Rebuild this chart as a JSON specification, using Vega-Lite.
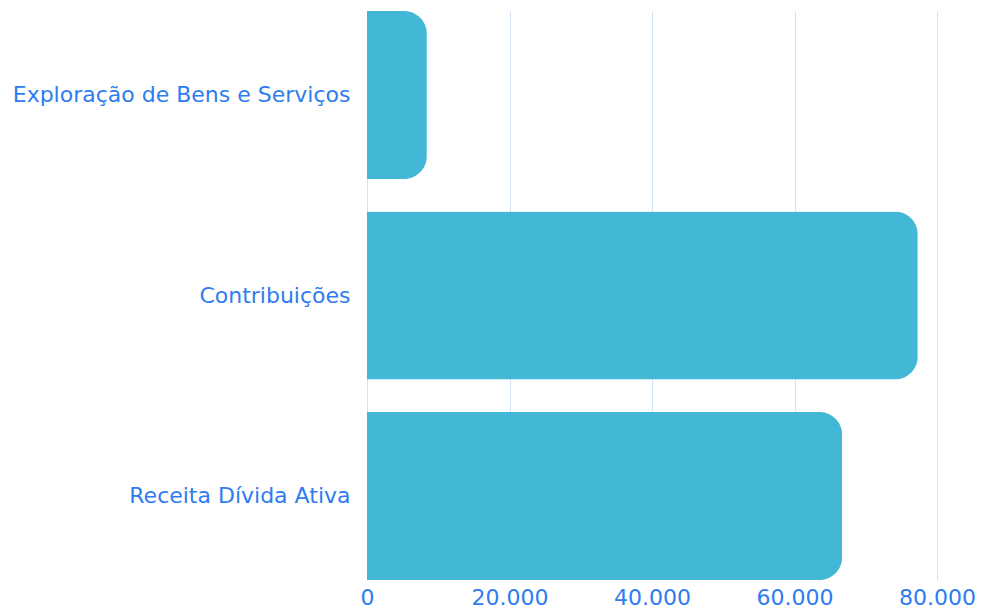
{
  "$schema": "https://vega.github.io/schema/vega-lite/v6.json",
  "autosize": {"type": "none"},
  "width": 570,
  "height": 569,
  "padding": {"left": 367, "top": 11, "right": 45, "bottom": 34},
  "background": "white",
  "config": {
    "view": {"stroke": null},
    "locale": {"number": {"decimal": ",", "thousands": ".", "grouping": [3], "currency": ["R$", ""]}},
    "font": "DejaVu Sans"
  },
  "data": {
    "values": [
      {"categoria": "Exploração de Bens e Serviços", "valor": 8400},
      {"categoria": "Contribuições", "valor": 77300},
      {"categoria": "Receita Dívida Ativa", "valor": 66700}
    ]
  },
  "mark": {"type": "bar", "color": "#42B8D6", "cornerRadiusEnd": 23},
  "encoding": {
    "y": {
      "field": "categoria", "type": "nominal", "sort": null, "title": null,
      "scale": {"paddingInner": 0.162, "paddingOuter": 0},
      "axis": {"domain": false, "ticks": false, "labelPadding": 17, "labelFontSize": 22, "labelFontWeight": "normal", "labelColor": "#2E7CF0", "labelFont": "DejaVu Sans", "labelLimit": 400}
    },
    "x": {
      "field": "valor", "type": "quantitative", "title": null,
      "scale": {"domain": [0, 80000], "nice": false},
      "axis": {"values": [0, 20000, 40000, 60000, 80000], "format": ",d", "domain": false, "ticks": false, "labelPadding": 7, "labelFontSize": 22, "labelColor": "#2E7CF0", "labelFont": "DejaVu Sans", "grid": true, "gridColor": "#D3E2F7", "gridWidth": 1, "labelFlush": false}
    }
  }
}
